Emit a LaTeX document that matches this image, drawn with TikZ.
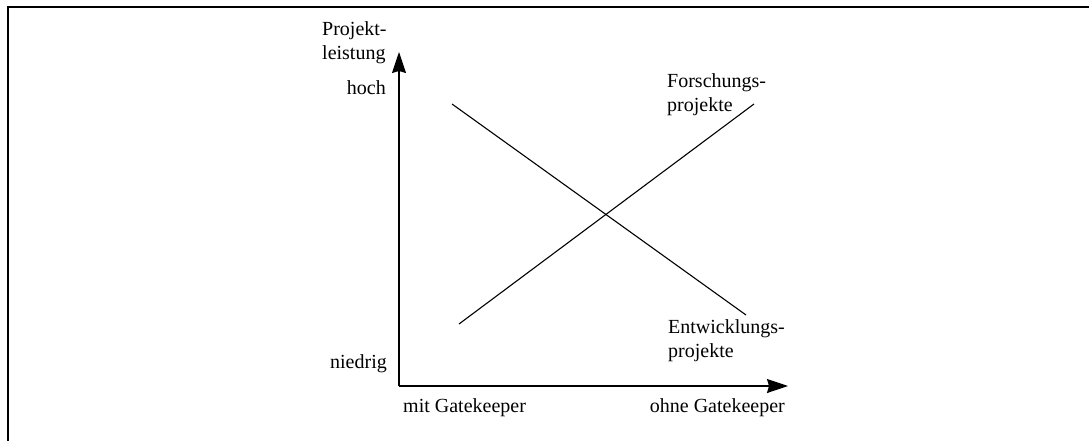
\documentclass[tikz,border=0pt]{standalone}
\usepackage{fontspec}
\setmainfont{Liberation Serif}
\usetikzlibrary{arrows.meta}
\begin{document}
\begin{tikzpicture}[x=1pt,y=-1pt,
  lbl/.style={inner sep=0pt,font=\fontsize{20}{24}\selectfont},
  axis/.style={line width=1.3pt,-{Stealth[length=21pt,width=14pt,inset=2pt]}},
  trend/.style={line width=1.1pt},
  frameline/.style={line width=2.2pt}]
\useasboundingbox (0,0) rectangle (1089,441);
% frame edges
\draw[frameline] (8,441) -- (8,7) -- (1089,7);
% axes
\coordinate (O) at (399,386);
\coordinate (ytip) at (399,52);
\coordinate (xtip) at (788,386);
\draw[axis] (O) -- (ytip);
\draw[axis] (O) -- (xtip);
% trend lines
\coordinate (e1) at (452,104);
\coordinate (e2) at (746,315);
\coordinate (f1) at (459,324);
\coordinate (f2) at (754,104);
\draw[trend] (e1) -- (e2);
\draw[trend] (f1) -- (f2);
% labels (base anchor of a two-line label sits on its last line)
\node[lbl,anchor=base west,align=left] (ylab) at (322,60) {Projekt-\\leistung};
\node[lbl,anchor=base east] (hoch) at (386,95) {hoch};
\node[lbl,anchor=base east] (niedrig) at (387,368) {niedrig};
\node[lbl,anchor=base west] (mit) at (403,412) {mit Gatekeeper};
\node[lbl,anchor=base east] (ohne) at (785,412) {ohne Gatekeeper};
\node[lbl,anchor=base west,align=left] (fp) at (667,112) {Forschungs-\\projekte};
\node[lbl,anchor=base west,align=left] (ep) at (668,357) {Entwicklungs-\\projekte};
\end{tikzpicture}
\end{document}
